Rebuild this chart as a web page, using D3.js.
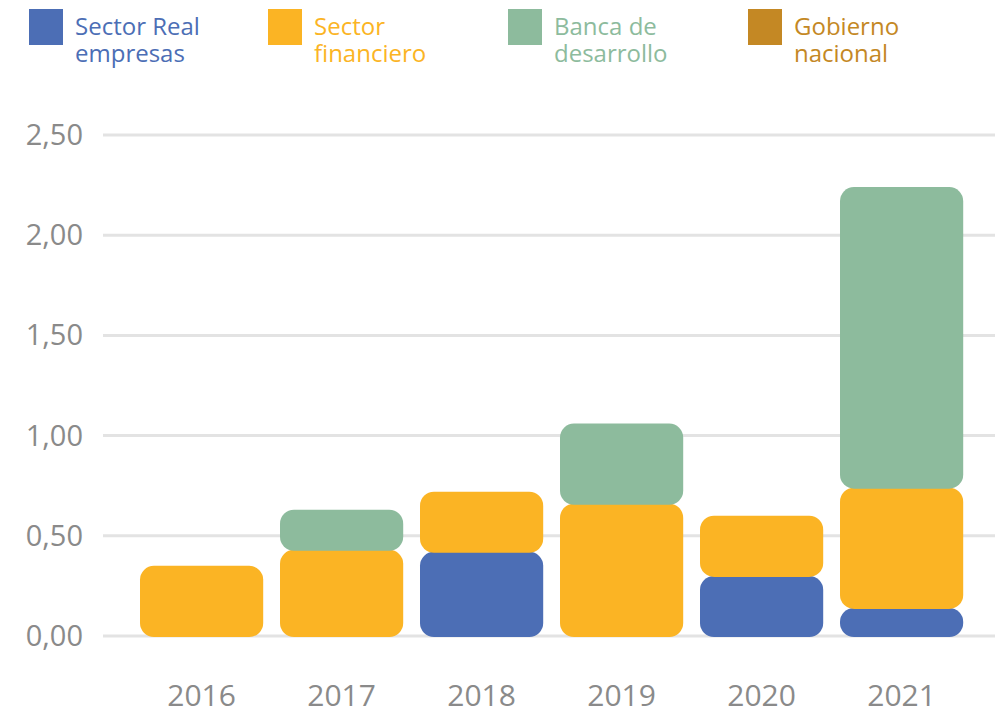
<!DOCTYPE html>
<html>
<head>
<meta charset="utf-8">
<script src="https://cdn.jsdelivr.net/npm/d3@7"></script>
<style>
    body { margin: 0; background: #fff; }
    svg { display: block; font-family: "Open Sans", sans-serif; }
</style>
</head>
<body>
<div id="chart"></div>
<script>
// chart data
const years = ["2016", "2017", "2018", "2019", "2020", "2021"];
const seriesLabels = [
    ["Sector Real", "empresas"],
    ["Sector", "financiero"],
    ["Banca de", "desarrollo"],
    ["Gobierno", "nacional"]
];
const sectorReal = [0, 0, 0.42, 0, 0.30, 0.14];
const sectorFinanciero = [0.35, 0.43, 0.30, 0.66, 0.30, 0.60];
const bancaDesarrollo = [0, 0.20, 0, 0.40, 0, 1.50];
const gobiernoNacional = [0, 0, 0, 0, 0, 0];
const yTicks = [0, 0.5, 1, 1.5, 2, 2.5];

const colors = ["#4c6eb5", "#fbb424", "#8dbb9d", "#c48824"];

const width = 995, height = 716;

const svg = d3.select("#chart").append("svg")
    .attr("width", width)
    .attr("height", height);

const x = d3.scaleBand()
    .domain(years)
    .range([131.6, 971.6])
    .paddingInner(0.12)
    .paddingOuter(0.06);

const y = d3.scaleLinear()
    .domain([0, 2.5])
    .range([636, 135]);

// gridlines
svg.append("g")
    .selectAll("line")
    .data(yTicks)
    .join("line")
    .attr("x1", 103)
    .attr("x2", width)
    .attr("y1", d => y(d))
    .attr("y2", d => y(d))
    .attr("stroke", "#e3e3e3")
    .attr("stroke-width", 3);

// y axis labels
const fmt = d => d3.format(".2f")(d).replace(".", ",");
svg.append("g")
    .selectAll("text")
    .data(yTicks)
    .join("text")
    .attr("x", 83)
    .attr("y", d => y(d) + 10)
    .attr("text-anchor", "end")
    .attr("fill", "#8a8a8a")
    .attr("font-size", 29)
    .text(fmt);

// x axis labels
const xAxis = svg.append("g")
    .attr("transform", "translate(0,706)")
    .call(d3.axisBottom(x).tickSize(0).tickPadding(0));
xAxis.select(".domain").remove();
xAxis.selectAll("text")
    .attr("dy", 0)
    .attr("fill", "#8a8a8a")
    .attr("font-size", 30)
    .attr("font-family", "Open Sans, sans-serif");

// stacked bars
const table = years.map((yr, i) => ({
    year: yr,
    s0: sectorReal[i],
    s1: sectorFinanciero[i],
    s2: bancaDesarrollo[i],
    s3: gobiernoNacional[i]
}));
const stacked = d3.stack().keys(["s0", "s1", "s2", "s3"])(table);

svg.append("g")
    .selectAll("g")
    .data(stacked)
    .join("g")
    .attr("fill", (d, i) => colors[i])
    .selectAll("rect")
    .data(d => d.filter(p => p[1] - p[0] > 0))
    .join("rect")
    .attr("x", d => x(d.data.year))
    .attr("width", x.bandwidth())
    .attr("y", d => y(d[1]))
    .attr("height", d => y(d[0]) - y(d[1]) + 1)
    .attr("rx", 14)
    .attr("ry", 14);

// legend
const legendX = [29, 268, 508, 748];
const legend = svg.append("g")
    .selectAll("g")
    .data(seriesLabels)
    .join("g")
    .attr("transform", (d, i) => `translate(${legendX[i]},9)`);

legend.append("rect")
    .attr("width", 34)
    .attr("height", 36)
    .attr("fill", (d, i) => colors[i]);

// one text per line
legend.selectAll("text.line")
    .data(d => d)
    .join("text")
    .attr("class", "line")
    .attr("fill", function() { return colors[seriesLabels.indexOf(d3.select(this.parentNode).datum())]; })
    .attr("font-size", 24)
    .attr("x", 46)
    .attr("y", (d, i) => 26 + i * 27)
    .text(d => d);
</script>
</body>
</html>
